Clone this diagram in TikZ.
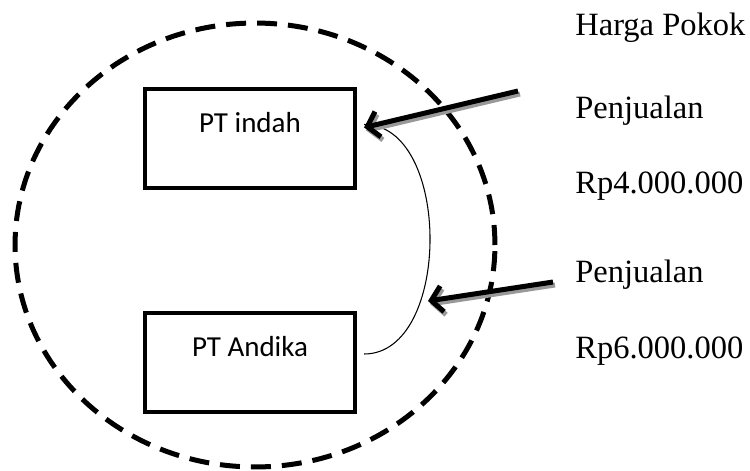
\documentclass[tikz,border=0pt]{standalone}
\usepackage{fontspec}
\setmainfont{Liberation Serif}
\newfontfamily\boxfont{Carlito}
\usepackage{tikz}
\usetikzlibrary{arrows.meta, positioning}

\tikzset{
    ptbox/.style={draw, line width=2.4pt, rectangle, inner sep=0pt,
        minimum width=4.2cm, text height=0.86cm, text depth=1.12cm,
        font=\boxfont\fontsize{16.5pt}{18pt}\selectfont},
    side/.style={anchor=base west, inner sep=0pt, font=\fontsize{18.5pt}{22pt}\selectfont},
    shaft/.style={line width=0.1cm, -{Straight Barb[length=0.22cm, width=0.52cm]}},
    shaftshade/.style={shaft, black!40, transform canvas={shift={(0.04cm,-0.06cm)}}}
}

\begin{document}
\begin{tikzpicture}[x=0.02cm, y=-0.02cm]
            \useasboundingbox (0, 0) rectangle (750, 470);

            \draw [line width=0.1cm, dash pattern=on 0.4cm off 0.22cm]
                (255, 245) ellipse [x radius=4.8cm, y radius=4.44cm];

            \node [ptbox] (indah) at (250, 138.5) {PT indah};
            \node [ptbox] (andika) at (250, 362.5) {PT Andika};

            \node [side] (harga) at (575, 35) {Harga Pokok};
            \node [side] (jual1) at (575, 118) {Penjualan};
            \node [side] (rp4) at (575, 193) {Rp4.000.000};
            \node [side] (jual2) at (575, 282) {Penjualan};
            \node [side] (rp6) at (575, 358) {Rp6.000.000};

            \coordinate (indahR) at ([xshift=0.14cm, yshift=0.28cm]indah.east);
            \coordinate (andikaR) at ([xshift=0.14cm, yshift=0.17cm]andika.east);
            \draw [line width=0.6pt] (indahR) .. controls (452, 124) and (452, 354) .. (andikaR);

            \coordinate (tail1) at (518, 91);
            \coordinate (tip1) at ([yshift=-0.06cm]indahR);
            \coordinate (tail2) at (553, 282);
            \coordinate (tip2) at (428, 301);

            \draw [shaftshade] (tail1) -- (tip1);
            \draw [shaft] (tail1) -- (tip1);
            \draw [shaftshade] (tail2) -- (tip2);
            \draw [shaft] (tail2) -- (tip2);
        \end{tikzpicture}
\end{document}
